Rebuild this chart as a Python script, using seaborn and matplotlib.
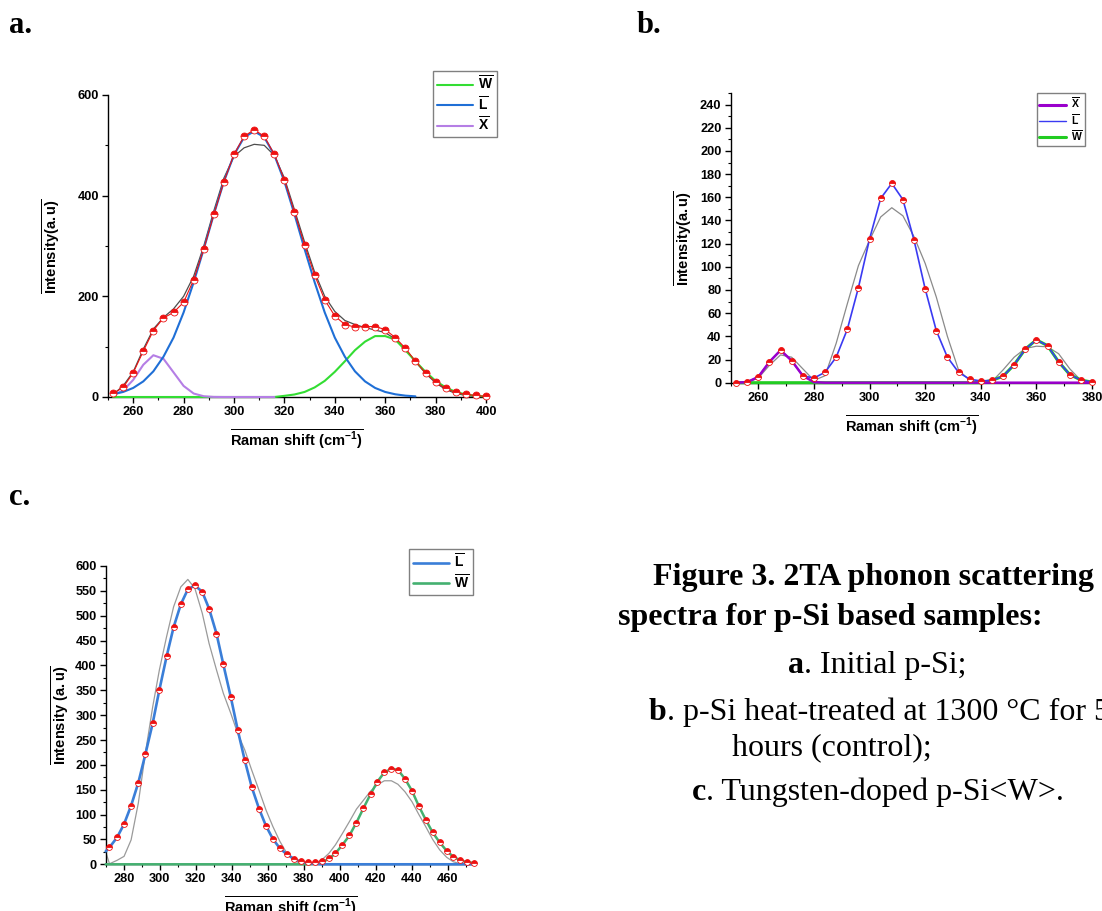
import numpy as np
import pandas as pd
import matplotlib
matplotlib.use("Agg")
import matplotlib.pyplot as plt
from matplotlib.lines import Line2D
from matplotlib.ticker import MultipleLocator
import seaborn as sns

# ---------- panel a: initial p-Si ----------
a_x = [252, 256, 260, 264, 268, 272, 276, 280, 284, 288, 292, 296, 300, 304, 308, 312,
       316, 320, 324, 328, 332, 336, 340, 344, 348, 352, 356, 360, 364, 368, 372, 376,
       380, 384, 388, 392, 396, 400]
a_int = [7, 19, 48, 91, 132, 157, 168, 188, 233, 294, 363, 428, 482, 518, 531, 518,
         482, 431, 367, 302, 242, 193, 161, 144, 139, 140, 140, 134, 118, 97, 71, 48,
         30, 17, 9, 5, 3, 1]
a_fit = [5, 22, 50, 95, 135, 158, 175, 200, 240, 300, 370, 435, 478, 495, 502, 500,
         480, 435, 372, 308, 248, 200, 170, 152, 144, 138, 133, 128, 115, 95, 70, 47,
         28, 15, 7, 3, 1, 0]
a_L = [5.4, 10, 18, 31, 51, 80, 118, 168, 228, 294, 363, 428, 481, 516, 528, 516,
       481, 428, 363, 294, 228, 168, 118, 80, 51, 31, 18, 10, 5.4, 2.7, 1.3]
a_W = [0, 0, 0, 0, 0, 0, 0, 0, 0, 0, 0, 0, 0, 0, 0, 0,
       0, 2.3, 5, 10, 19, 32, 50, 71, 93, 110, 121, 121, 114, 93, 71, 50,
       32, 19, 10, 5, 2.3, 1]
a_X = [3.4, 12.8, 34, 64, 83, 76, 49, 22, 6.9, 1.5, 0.2, 0, 0, 0, 0, 0, 0]

# ---------- panel b: heat-treated p-Si ----------
b_x = [252, 256, 260, 264, 268, 272, 276, 280, 284, 288, 292, 296, 300, 304, 308, 312,
       316, 320, 324, 328, 332, 336, 340, 344, 348, 352, 356, 360, 364, 368, 372, 376, 380]
b_int = [0, 0.5, 5, 18, 28, 19, 6, 4, 9, 22, 46, 82, 124, 159, 172, 158,
         123, 81, 45, 22, 9, 3, 1.5, 2, 5.5, 15.5, 29, 37, 32, 18, 7, 2.3, 0.5]
b_fit = [0, 0, 4, 15, 24, 22, 12, 2, 6, 34, 68, 101, 123, 143, 151, 144,
         126, 103, 74, 40, 11, 2, 0, 1, 11, 22, 29.5, 31.5, 31, 25, 12, 2, 0]
b_X = [0, 0.5, 5, 18, 28, 19, 6, 0.5] + [0] * 25
b_W = [0] * 23 + [2, 5.5, 15.5, 29, 37, 32, 18, 7, 2.3, 0.5]

# ---------- panel c: tungsten-doped p-Si<W> ----------
c_x = [272.1, 276.3, 280.2, 284.1, 288.1, 292.0, 296.1, 299.8, 303.8, 307.7, 311.7,
       315.6, 319.5, 323.6, 327.4, 331.5, 335.3, 339.4, 343.3, 347.2, 351.0, 355.1,
       359.0, 362.8, 366.7, 370.6, 374.5, 378.3, 382.2, 386.1, 390.0, 393.9, 397.5,
       401.4, 405.3, 409.2, 413.1, 417.0, 420.8, 424.7, 428.6, 432.2, 436.1, 440.0,
       443.7, 447.6, 451.5, 455.4, 459.3, 463.0, 466.9, 470.8, 474.3]
c_int = [34, 54, 81, 118, 164, 221, 284, 351, 418, 477, 523, 553, 561, 548, 514, 464,
         402, 337, 270, 209, 156, 112, 77, 51, 32, 20, 11, 7, 5, 5, 7, 13, 23, 39, 58,
         84, 113, 141, 166, 185, 192, 190, 172, 148, 118, 90, 64, 44, 27, 15, 8, 4, 3]
c_fit = [25, 1, 8, 16, 49, 123, 223, 317, 391, 458, 518, 558, 573, 555, 505, 444, 391,
         344, 304, 263, 230, 190, 149, 109, 76, 46, 22, 7, 2, 1, 2, 9, 22, 39, 62, 86,
         111, 129, 147, 160, 168, 168, 161, 146, 126, 101, 76, 50, 29, 14, 5, 1, 0, 0]
c_L = [26] + c_int[:27] + [5, 2, 1, 0] + [0] * 22
c_W = [0] + [0] * 29 + [1, 4, 11, 22] + c_int[33:]

# ---------- style ----------
sns.set_style("ticks")
plt.rcParams["font.family"] = ["Liberation Sans", "DejaVu Sans"]
plt.rcParams["font.weight"] = "bold"
plt.rcParams["mathtext.fontset"] = "custom"
plt.rcParams["mathtext.rm"] = "Liberation Sans"
plt.rcParams["mathtext.bf"] = "Liberation Sans:bold"
plt.rcParams["mathtext.it"] = "Liberation Sans:italic"
plt.rcParams["axes.linewidth"] = 1.0
for key in ["text.color", "axes.labelcolor", "xtick.color", "ytick.color", "axes.edgecolor"]:
    plt.rcParams[key] = "black"

W_PX, H_PX = 1102, 911
fig = plt.figure(figsize=(W_PX / 100, H_PX / 100), dpi=100)
fig.patch.set_facecolor("white")

RED = "#ee1111"
XLAB = r"$\overline{\mathbf{Raman\ shift\ (cm^{-1})}}$"


def px_axes(left, top, right, bottom):
    return fig.add_axes([left / W_PX, 1 - bottom / H_PX,
                         (right - left) / W_PX, (bottom - top) / H_PX])


def style(ax, xlim, ylim, xmaj, xmin, ymaj, ymin, ylab, ylab_x):
    ax.set_xlim(*xlim)
    ax.set_ylim(*ylim)
    ax.xaxis.set_major_locator(MultipleLocator(xmaj))
    ax.xaxis.set_minor_locator(MultipleLocator(xmin))
    ax.yaxis.set_major_locator(MultipleLocator(ymaj))
    ax.yaxis.set_minor_locator(MultipleLocator(ymin))
    sns.despine(ax=ax)
    ax.set_facecolor("white")
    ax.tick_params(which="major", direction="out", length=4, width=1,
                   labelsize=9.2, pad=2.5, colors="black")
    ax.tick_params(which="minor", direction="out", length=2, width=0.8, colors="black")
    ax.set_xlabel(XLAB, fontsize=10.5)
    ax.set_ylabel(ylab, fontsize=10.5)
    h = ax.get_position().height * H_PX
    ax.xaxis.set_label_coords(0.5, -30 / h)
    ax.yaxis.set_label_coords(ylab_x, 0.5)


def markers(ax, x, y, ms, connect):
    sns.lineplot(x=x, y=y, ax=ax, color=RED, linewidth=0.8 if connect else 0,
                 marker="o", markersize=ms, fillstyle="top",
                 markerfacecolor=RED, markerfacecoloralt="white",
                 markeredgecolor=RED, markeredgewidth=0.6, clip_on=False, zorder=5)


def legend(ax, entries, anchor_px, fs, hl):
    handles = [Line2D([0], [0], color=c, lw=lw) for c, lw, _ in entries]
    labels = [lab for _, _, lab in entries]
    leg = ax.legend(handles, labels, loc="upper right",
                    bbox_to_anchor=(anchor_px[0] / W_PX, 1 - anchor_px[1] / H_PX),
                    bbox_transform=fig.transFigure, fontsize=fs, handlelength=hl,
                    handletextpad=0.4, labelspacing=0.15, borderpad=0.25,
                    borderaxespad=0, frameon=True, fancybox=False, framealpha=1)
    leg.get_frame().set_edgecolor("#808080")
    leg.get_frame().set_linewidth(1.0)


def ov(s):
    return r"$\overline{\mathbf{" + s + "}}$"


# ---------- panel a ----------
ax_a = px_axes(108, 95, 486, 397)
sns.lineplot(x=a_x, y=a_fit, ax=ax_a, color="#4d4d4d", linewidth=0.9, zorder=2)
sns.lineplot(x=a_x, y=a_W, ax=ax_a, color="#33dd33", linewidth=1.5, clip_on=False, zorder=3)
sns.lineplot(x=a_x[:17], y=a_X, ax=ax_a, color="#b57ee5", linewidth=1.5, clip_on=False, zorder=3)
sns.lineplot(x=a_x[:31], y=a_L, ax=ax_a, color="#1f6fd6", linewidth=1.5, clip_on=False, zorder=3)
markers(ax_a, a_x, a_int, 5, True)
style(ax_a, (250, 400), (0, 600), 20, 10, 200, 100,
      r"$\overline{\mathbf{Intensity(a.u)}}$", -45 / 378)
legend(ax_a, [("#33dd33", 1.5, ov("W")), ("#1f6fd6", 1.5, ov("L")),
              ("#b57ee5", 1.5, ov("X"))], (497, 71), 10, 2.6)

# ---------- panel b ----------
ax_b = px_axes(730.5, 93, 1092, 382.7)
sns.lineplot(x=b_x, y=b_fit, ax=ax_b, color="#8a8a8a", linewidth=0.9, zorder=2)
sns.lineplot(x=b_x, y=b_W, ax=ax_b, color="#22cc22", linewidth=2.2, clip_on=False, zorder=3)
sns.lineplot(x=b_x, y=b_int, ax=ax_b, color="#3a3af2", linewidth=1.2, clip_on=False, zorder=4)
sns.lineplot(x=b_x, y=b_X, ax=ax_b, color="#9a00cc", linewidth=1.8, clip_on=False, zorder=4)
markers(ax_b, b_x, b_int, 4.3, False)
style(ax_b, (250, 380), (0, 250), 20, 10, 20, 10,
      r"$\overline{\mathbf{Intensity(a.u)}}$", -35.5 / 361.5)
legend(ax_b, [("#9a00cc", 2.2, ov("X")), ("#3a3af2", 1.0, ov("L")),
              ("#22cc22", 2.2, ov("W"))], (1085, 93), 7.5, 2.6)

# ---------- panel c ----------
ax_c = px_axes(105.7, 566, 475, 864.3)
cx_full = [270] + c_x
sns.lineplot(x=cx_full, y=c_fit, ax=ax_c, color="#9a9a9a", linewidth=0.9, zorder=2)
sns.lineplot(x=cx_full, y=c_W, ax=ax_c, color="#44b070", linewidth=1.8, clip_on=False, zorder=3)
sns.lineplot(x=cx_full, y=c_L, ax=ax_c, color="#3a7ed8", linewidth=1.9, clip_on=False, zorder=3)
markers(ax_c, c_x, c_int, 4.2, False)
style(ax_c, (270, 475), (0, 600), 20, 10, 50, 25,
      r"$\overline{\mathbf{Intensity\ (a.u)}}$", -33.7 / 369.3)
legend(ax_c, [("#3a7ed8", 1.9, ov("L")), ("#44b070", 1.9, ov("W"))], (473, 549), 10, 2.6)

# ---------- panel letters and caption ----------
serif = dict(family=["Liberation Serif", "DejaVu Serif"], va="baseline", ha="left",
             color="black")
fig.text(9 / W_PX, 1 - 33 / H_PX, "a.", fontsize=22, fontweight="bold", **serif)
fig.text(637 / W_PX, 1 - 33 / H_PX, "b.", fontsize=22, fontweight="bold", **serif)
fig.text(9 / W_PX, 1 - 505 / H_PX, "c.", fontsize=22, fontweight="bold", **serif)

renderer = fig.canvas.get_renderer()


def caption(x_px, y_px, bold, rest=""):
    if bold:
        t = fig.text(x_px / W_PX, 1 - y_px / H_PX, bold, fontsize=23,
                     fontweight="bold", **serif)
        x_px = t.get_window_extent(renderer=renderer).x1
    if rest:
        fig.text(x_px / W_PX, 1 - y_px / H_PX, rest, fontsize=23,
                 fontweight="normal", **serif)


caption(653, 585, "Figure 3. 2TA phonon scattering")
caption(618, 625, "spectra for p-Si based samples:")
caption(788, 673, "a", ". Initial p-Si;")
caption(649, 720, "b", ". p-Si heat-treated at 1300 \u00b0C for 5")
caption(732, 755, "", "hours (control);")
caption(692, 800, "c", ". Tungsten-doped p-Si<W>.")

fig.savefig("out.png", dpi=100, facecolor="white")
